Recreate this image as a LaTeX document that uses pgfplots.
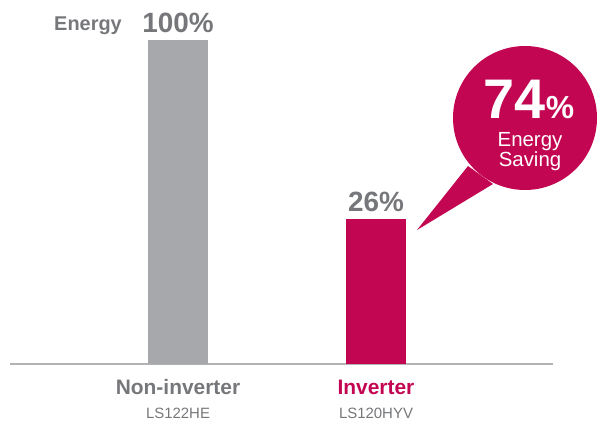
\documentclass[border=0pt]{standalone}
\usepackage{fontspec}
\setmainfont{Liberation Sans}
\usepackage{pgfplots}
\pgfplotsset{compat=1.18}
\definecolor{lgred}{HTML}{C30651}
\definecolor{bargray}{HTML}{A7A8AB}
\definecolor{txtgray}{HTML}{76777A}
\definecolor{linegray}{HTML}{B2B2B2}

\begin{document}
\begin{tikzpicture}
\path[use as bounding box] (0bp,0bp) rectangle (597bp,423bp);
\begin{axis}[
  at={(10bp,59bp)}, anchor=south west,
  scale only axis, width=543bp, height=324bp,
  xmin=-0.8485, xmax=1.8939, ymin=0, ymax=100,
  clip=false,
  hide y axis,
  axis x line*=bottom,
  x axis line style={draw=linegray, line width=2bp},
  xtick={0,1}, major tick length=0pt,
  xticklabels={\textcolor{txtgray}{Non-inverter}, \textcolor{lgred}{Inverter}},
  xticklabel style={font=\fontsize{21}{24}\selectfont\bfseries, anchor=base, inner sep=0pt, yshift=-30bp},
  ybar, bar width=60bp, bar shift=0pt,
  nodes near coords, point meta=explicit symbolic,
  nodes near coords style={font=\fontsize{28}{28}\selectfont\bfseries, text=txtgray, anchor=base, inner sep=0pt, yshift=7bp},
]
% bar heights as drawn (the 26% bar is not to scale in the original)
\addplot[fill=bargray, draw=none] coordinates {(0,100) [100\%]};
\addplot[fill=lgred, draw=none] coordinates {(1,44.8) [26\%]};

\node[anchor=base, inner sep=0pt, yshift=-54bp, text=txtgray, font=\fontsize{15}{15}\selectfont] at (axis cs:0,0) {LS122HE};
\node[anchor=base, inner sep=0pt, yshift=-54bp, text=txtgray, font=\fontsize{15}{15}\selectfont] at (axis cs:1,0) {LS120HYV};
\end{axis}

% top-left label
\node[anchor=base, inner sep=0pt, text=txtgray, font=\fontsize{20}{20}\selectfont\bfseries] at (88bp,392bp) {Energy};

% speech bubble
\fill[lgred] (525bp,305bp) circle[radius=72bp];
\fill[lgred] (417bp,193bp) -- (468bp,257bp) -- (493bp,239bp) -- cycle;
\node[anchor=base, inner sep=0pt, text=white, font=\bfseries] at (529bp,304bp)
  {\fontsize{56}{56}\selectfont 74\fontsize{32}{32}\selectfont\%};
\node[anchor=base, inner sep=0pt, text=white, font=\fontsize{20.5}{20.5}\selectfont] at (530bp,276bp) {Energy};
\node[anchor=base, inner sep=0pt, text=white, font=\fontsize{20.5}{20.5}\selectfont] at (530bp,256bp) {Saving};
\end{tikzpicture}
\end{document}
